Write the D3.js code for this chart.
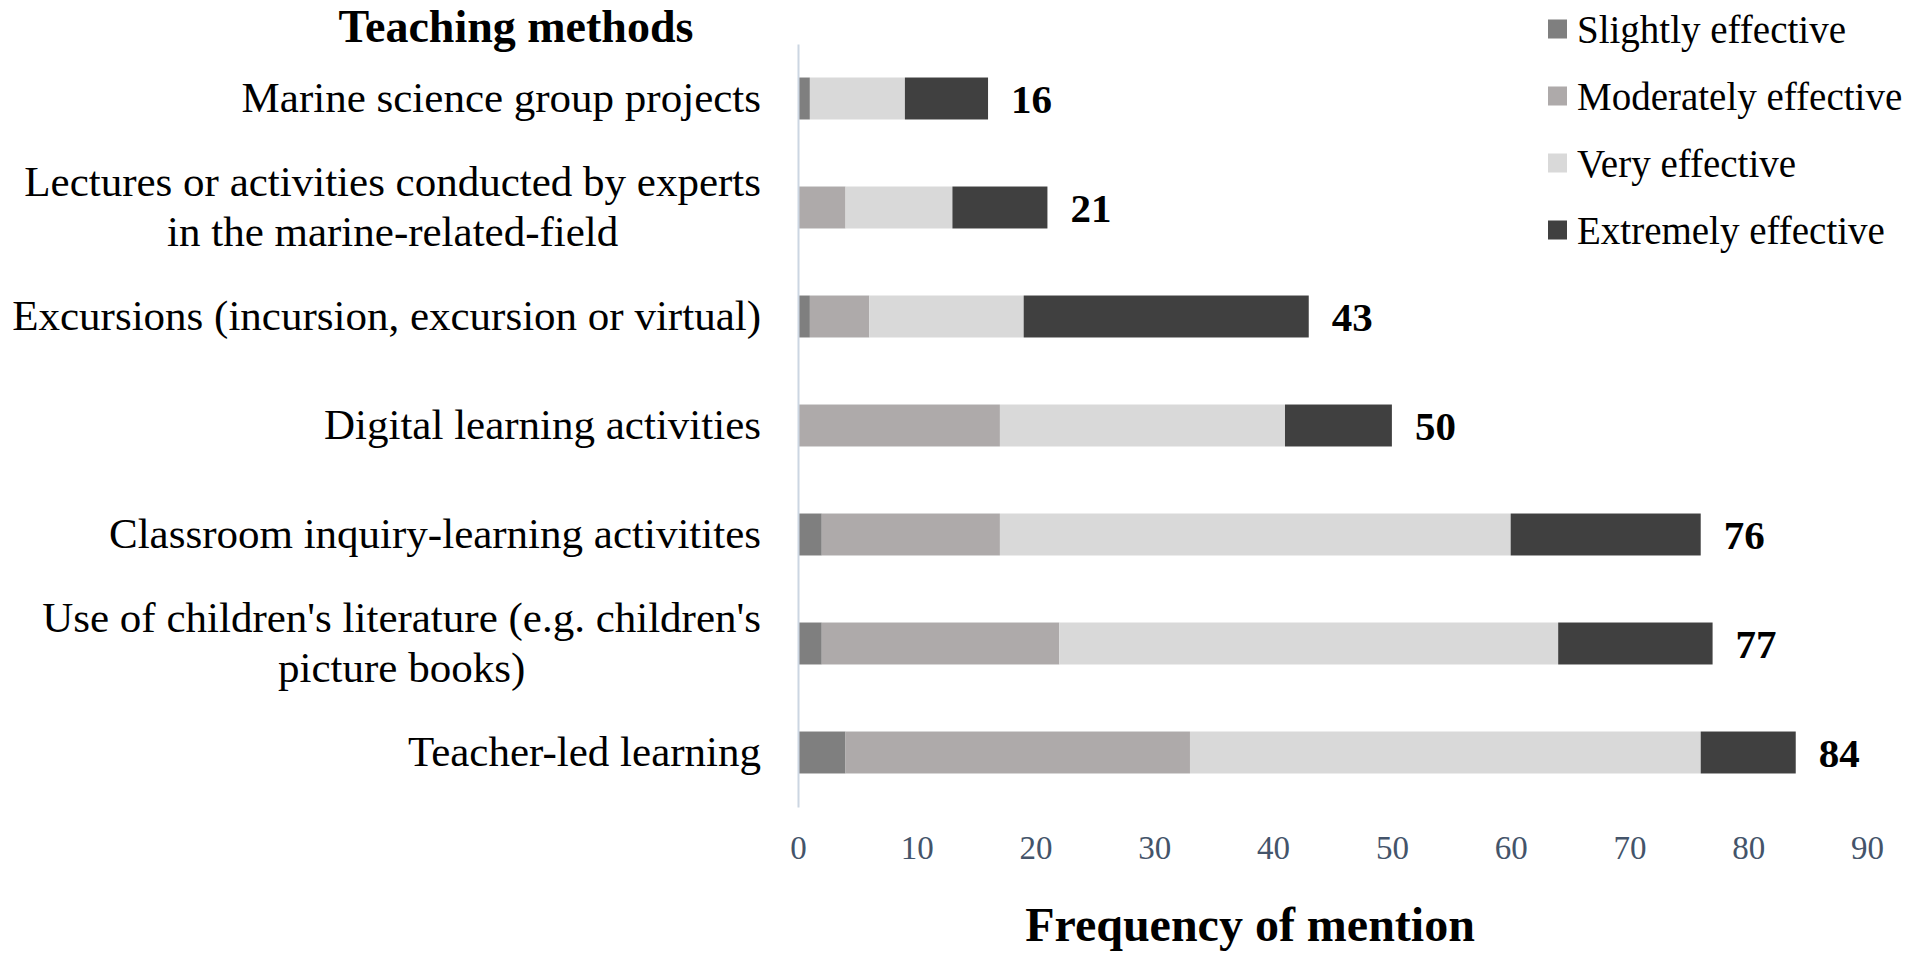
<!DOCTYPE html>
<html>
<head>
<meta charset="utf-8">
<script src="https://cdn.jsdelivr.net/npm/d3@7"></script>
<style>
  body { margin: 0; background: #fff; }
  text { font-family: "Liberation Serif", "Times New Roman", serif; }
</style>
</head>
<body>
<script>
// Categories (line breaks as in the original figure)
const categoryLines = [
  ["Marine science group projects"],
  ["Lectures or activities conducted by experts", "in the marine-related-field"],
  ["Excursions (incursion, excursion or virtual)"],
  ["Digital learning activities"],
  ["Classroom inquiry-learning activitites"],
  ["Use of children's literature (e.g. children's", "picture books)"],
  ["Teacher-led learning"]
];
const categories = categoryLines.map(l => l.join(" "));

const seriesNames = ["Slightly effective", "Moderately effective", "Very effective", "Extremely effective"];
const seriesColors = ["#7f7f7f", "#aeaaaa", "#d9d9d9", "#404040"];

const slightly   = [1, 0, 1, 0, 2, 2, 4];
const moderately = [0, 4, 5, 17, 15, 20, 29];
const very       = [8, 9, 13, 24, 43, 42, 43];
const extremely  = [7, 8, 24, 9, 16, 13, 8];

const xTicks = [0, 10, 20, 30, 40, 50, 60, 70, 80, 90];

// Build table for d3.stack
const seriesValues = [slightly, moderately, very, extremely];
const rows = categories.map((c, i) => {
  const r = { category: c };
  seriesNames.forEach((s, j) => r[s] = seriesValues[j][i]);
  return r;
});

const w = 1908;
const h = 954;

const svg = d3.select("body")
  .append("svg")
  .attr("width", w)
  .attr("height", h);

const x = d3.scaleLinear()
  .domain([0, 90])
  .range([798, 1867]);

const y = d3.scaleBand()
  .domain(categories)
  .range([44, 807])
  .paddingInner(0.615)
  .paddingOuter(0.3075);

const stacked = d3.stack().keys(seriesNames)(rows);

// Bars
svg.append("g")
  .selectAll("g")
  .data(stacked)
  .enter()
  .append("g")
  .attr("fill", (d, i) => seriesColors[i])
  .selectAll("rect")
  .data(d => d)
  .enter()
  .append("rect")
  .attr("x", d => x(d[0]))
  .attr("y", d => y(d.data.category))
  .attr("width", d => x(d[1]) - x(d[0]))
  .attr("height", y.bandwidth());

// Totals
svg.append("g")
  .selectAll("text")
  .data(rows)
  .enter()
  .append("text")
  .attr("x", d => x(d3.sum(seriesNames, s => d[s])) + 23)
  .attr("y", d => y(d.category) + y.bandwidth() / 2 + 14)
  .attr("font-size", 41)
  .attr("font-weight", "bold")
  .attr("fill", "#000")
  .text(d => d3.sum(seriesNames, s => d[s]));

// X axis (labels only)
const xAxis = svg.append("g")
  .attr("transform", "translate(0,807)")
  .call(d3.axisBottom(x).tickValues(xTicks).tickSize(0).tickPadding(29));
xAxis.select(".domain").remove();
xAxis.selectAll("text")
  .attr("font-size", 33)
  .attr("font-family", "Liberation Serif")
  .attr("fill", "#44546a");

// Y axis
const yAxis = svg.append("g")
  .attr("transform", "translate(798,0)")
  .call(d3.axisLeft(y).tickSize(0).tickSizeOuter(0).tickPadding(37));
yAxis.select(".domain")
  .attr("stroke", "#ccd6e2")
  .attr("stroke-width", 2);

yAxis.selectAll(".tick text")
  .attr("font-size", 43)
  .attr("font-family", "Liberation Serif")
  .attr("fill", "#000")
  .each(function(d, i) {
    const t = d3.select(this);
    const lines = categoryLines[i];
    t.text(null).attr("dy", null).attr("y", null);
    const n = lines.length;
    const spans = lines.map((line, k) =>
      t.append("tspan")
        .attr("x", -37)
        .attr("y", 13 + (k - (n - 1) / 2) * 50)
        .text(line));
    if (n > 1) {
      const maxW = d3.max(spans, s => s.node().getComputedTextLength());
      t.attr("text-anchor", "middle");
      spans.forEach(s => s.attr("x", -37 - maxW / 2));
    }
  });

// Titles
svg.append("text")
  .attr("x", 516)
  .attr("y", 42)
  .attr("text-anchor", "middle")
  .attr("font-size", 46)
  .attr("font-weight", "bold")
  .text("Teaching methods");

svg.append("text")
  .attr("x", 1250)
  .attr("y", 941)
  .attr("text-anchor", "middle")
  .attr("font-size", 48)
  .attr("font-weight", "bold")
  .text("Frequency of mention");

// Legend
const legend = svg.append("g")
  .attr("transform", "translate(1548,0)");

const item = legend.selectAll("g")
  .data(seriesNames)
  .enter()
  .append("g")
  .attr("transform", (d, i) => `translate(0, ${29 + i * 67})`);

item.append("rect")
  .attr("x", 0)
  .attr("y", -9.5)
  .attr("width", 19)
  .attr("height", 19)
  .attr("fill", (d, i) => seriesColors[i]);

item.append("text")
  .attr("x", 29)
  .attr("y", 14)
  .attr("font-size", 39)
  .attr("fill", "#000")
  .text(d => d);
</script>
</body>
</html>
